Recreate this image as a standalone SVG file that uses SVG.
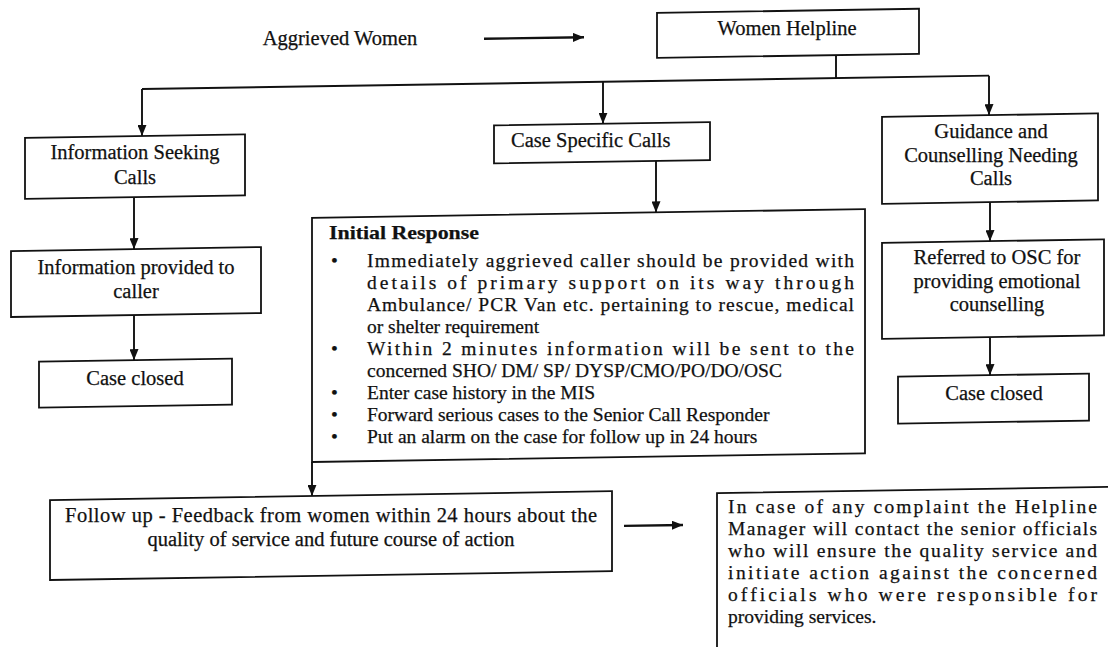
<svg xmlns="http://www.w3.org/2000/svg" width="1108" height="647" viewBox="0 0 1108 647">
<style>
.t{font-family:"Liberation Serif","Times New Roman",serif;font-size:20.5px;fill:#111;stroke:#111;stroke-width:0.25}
.p{font-size:19.5px}
.c{text-anchor:middle}
.b{font-weight:bold}
.box{fill:#fff;stroke:#111;stroke-width:1.8}
.ln{fill:none;stroke:#111;stroke-width:1.9}
.arw{marker-end:url(#ah)}
</style>
<defs>
<marker id="ah" viewBox="0 0 11 9" refX="11" refY="4.5" markerWidth="11" markerHeight="9" markerUnits="userSpaceOnUse" orient="auto">
<path d="M0,0 L11,4.5 L0,9 z" fill="#111"/>
</marker>
</defs>
<rect x="0" y="0" width="1108" height="647" fill="#fff"/>
<g id="connectors" transform="matrix(1,-0.0157,0,1,0,8.698)">
<line class="ln arw" x1="484" y1="37.7" x2="584" y2="37.7" style="stroke-width:2.4"/>
<polyline class="ln" points="836,59.7 836,82.5"/>
<line class="ln" x1="142" y1="82.5" x2="989" y2="82.5"/>
<line class="ln arw" x1="142" y1="82.5" x2="142" y2="129.5"/>
<line class="ln arw" x1="603" y1="82.5" x2="603" y2="124.5"/>
<line class="ln arw" x1="989" y1="82.5" x2="989" y2="122"/>
<line class="ln arw" x1="134" y1="190.5" x2="134" y2="242.5"/>
<line class="ln arw" x1="134" y1="308.5" x2="134" y2="353.5"/>
<line class="ln arw" x1="656" y1="162.5" x2="656" y2="214"/>
<line class="ln arw" x1="990" y1="209" x2="990" y2="248"/>
<line class="ln arw" x1="990" y1="344" x2="990" y2="382"/>
<line class="ln arw" x1="312" y1="458.2" x2="312" y2="492.1"/>
<line class="ln arw" x1="624" y1="527" x2="683" y2="527" style="stroke-width:2.4"/>
</g>
<g id="aggrieved">
<text class="t c" x="340" y="45">Aggrieved Women</text>
</g>
<g id="helpline">
<rect class="box" x="657" y="14.5" width="262" height="45" transform="matrix(1,-0.0157,0,1,0,8.698)"/>
<text class="t c" x="787" y="34.8">Women Helpline</text>
</g>
<g id="info-seeking">
<rect class="box" x="25" y="129.5" width="220" height="61" transform="matrix(1,-0.0157,0,1,0,8.698)"/>
<text class="t c" x="135" y="159">Information Seeking</text>
<text class="t c" x="135" y="184">Calls</text>
</g>
<g id="info-provided">
<rect class="box" x="11" y="242.5" width="250" height="66" transform="matrix(1,-0.0157,0,1,0,8.698)"/>
<text class="t c" x="136" y="274">Information provided to</text>
<text class="t c" x="136" y="297.5">caller</text>
</g>
<g id="closed-left">
<rect class="box" x="39" y="353.5" width="193" height="46" transform="matrix(1,-0.0157,0,1,0,8.698)"/>
<text class="t c" x="135" y="385">Case closed</text>
</g>
<g id="case-specific">
<rect class="box" x="494" y="124.5" width="216" height="38" transform="matrix(1,-0.0157,0,1,0,8.698)"/>
<text class="t" x="511" y="147.1">Case Specific Calls</text>
</g>
<g id="initial-response">
<rect class="box" x="312" y="214" width="553" height="244.2" transform="matrix(1,-0.0157,0,1,0,8.698)"/>
<text class="t b p" x="329" y="238.5" textLength="150" lengthAdjust="spacingAndGlyphs">Initial Response</text>
<text class="t p" x="331" y="266.7">•</text>
<text class="t p" x="367" y="266.7" textLength="487" lengthAdjust="spacing">Immediately aggrieved caller should be provided with</text>
<text class="t p" x="367" y="288.7" textLength="487" lengthAdjust="spacing">details of primary support on its way through</text>
<text class="t p" x="367" y="310.7" textLength="487" lengthAdjust="spacing">Ambulance/ PCR Van etc. pertaining to rescue, medical</text>
<text class="t p" x="367" y="332.7">or shelter requirement</text>
<text class="t p" x="331" y="354.7">•</text>
<text class="t p" x="367" y="354.7" textLength="487" lengthAdjust="spacing">Within 2 minutes information will be sent to the</text>
<text class="t p" x="367" y="376.7">concerned SHO/ DM/ SP/ DYSP/CMO/PO/DO/OSC</text>
<text class="t p" x="331" y="398.7">•</text>
<text class="t p" x="367" y="398.7">Enter case history in the MIS</text>
<text class="t p" x="331" y="420.7">•</text>
<text class="t p" x="367" y="420.7">Forward serious cases to the Senior Call Responder</text>
<text class="t p" x="331" y="442.7">•</text>
<text class="t p" x="367" y="442.7">Put an alarm on the case for follow up in 24 hours</text>
</g>
<g id="guidance">
<rect class="box" x="882" y="122" width="216" height="87" transform="matrix(1,-0.0157,0,1,0,8.698)"/>
<text class="t c" x="991" y="138.4">Guidance and</text>
<text class="t c" x="991" y="161.9">Counselling Needing</text>
<text class="t c" x="991" y="185.4">Calls</text>
</g>
<g id="referred">
<rect class="box" x="882" y="248" width="222" height="96" transform="matrix(1,-0.0157,0,1,0,8.698)"/>
<text class="t c" x="997" y="264">Referred to OSC for</text>
<text class="t c" x="997" y="287.5">providing emotional</text>
<text class="t c" x="997" y="311">counselling</text>
</g>
<g id="closed-right">
<rect class="box" x="898" y="382" width="191" height="47" transform="matrix(1,-0.0157,0,1,0,8.698)"/>
<text class="t c" x="994" y="400">Case closed</text>
</g>
<g id="follow-up">
<rect class="box" x="50" y="492.1" width="562" height="80" transform="matrix(1,-0.0157,0,1,0,8.698)"/>
<text class="t c" x="331" y="522" textLength="532" lengthAdjust="spacing">Follow up - Feedback from women within 24 hours about the</text>
<text class="t c" x="331" y="545.5">quality of service and future course of action</text>
</g>
<g id="complaint">
<rect class="box" x="717" y="495.6" width="400" height="170" transform="matrix(1,-0.0157,0,1,0,8.698)"/>
<text class="t p" x="728" y="513" textLength="369" lengthAdjust="spacing">In case of any complaint the Helpline</text>
<text class="t p" x="728" y="535" textLength="369" lengthAdjust="spacing">Manager will contact the senior officials</text>
<text class="t p" x="728" y="557" textLength="369" lengthAdjust="spacing">who will ensure the quality service and</text>
<text class="t p" x="728" y="579" textLength="369" lengthAdjust="spacing">initiate action against the concerned</text>
<text class="t p" x="728" y="601" textLength="369" lengthAdjust="spacing">officials who were responsible for</text>
<text class="t p" x="728" y="623">providing services.</text>
</g>
</svg>
